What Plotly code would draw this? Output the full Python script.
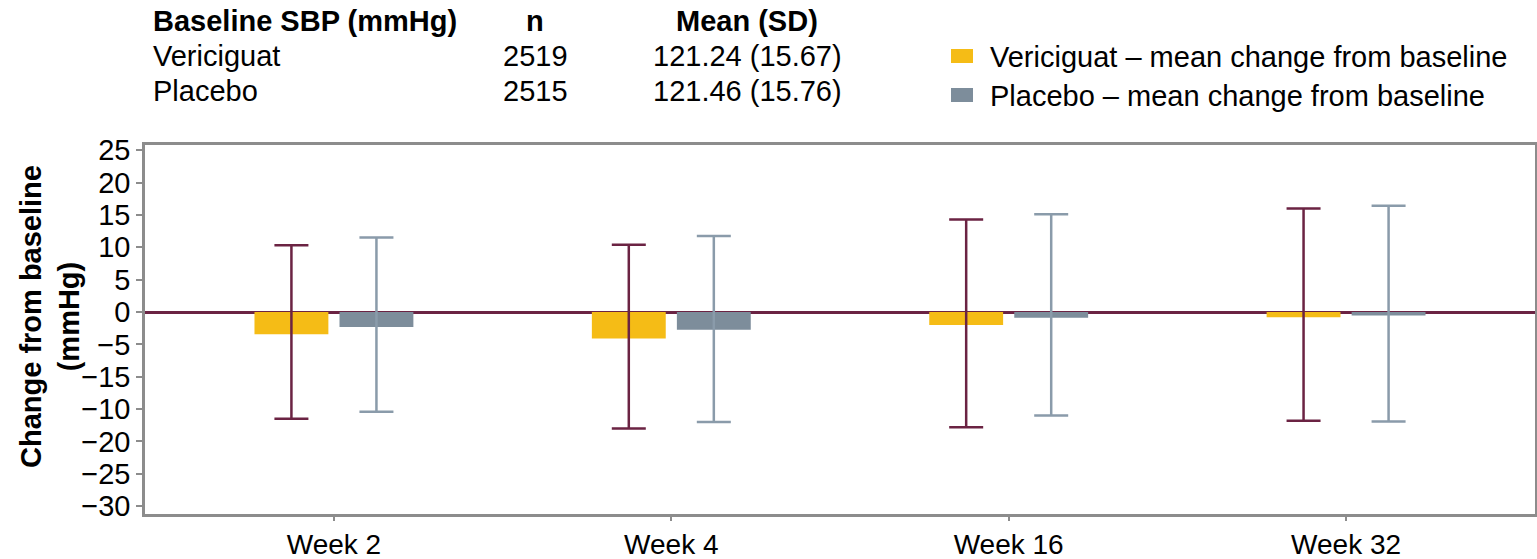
import plotly.graph_objects as go

# Visits
weeks = ["Week 2", "Week 4", "Week 16", "Week 32"]

# Mean change from baseline in SBP (mmHg) with lower/upper whisker ends
vericiguat_mean = [-3.45, -4.1, -2.0, -0.8]
vericiguat_upper = [10.3, 10.4, 14.3, 16.0]
vericiguat_lower = [-16.5, -18.0, -17.8, -16.8]

placebo_mean = [-2.3, -2.75, -0.88, -0.55]
placebo_upper = [11.5, 11.75, 15.1, 16.4]
placebo_lower = [-15.4, -17.0, -16.0, -16.9]

# Baseline summary table
table_header = ["Baseline SBP (mmHg)", "n", "Mean (SD)"]
table_groups = ["Vericiguat", "Placebo"]
table_n = ["2519", "2515"]
table_mean_sd = ["121.24 (15.67)", "121.46 (15.76)"]

legend_labels = ["Vericiguat – mean change from baseline",
                 "Placebo – mean change from baseline"]

# Y ticks (labels as printed on the axis)
y_tickvals = [25, 20, 15, 10, 5, 0, -5, -10, -15, -20, -25, -30]
y_ticktext = ["25", "20", "15", "10", "5", "0", "\u22125", "\u221215",
              "\u221210", "\u221220", "\u221225", "\u221230"]

YELLOW = "#F5BC16"
SLATE = "#7D8D9B"
MAROON = "#6B2343"
SLATE_LIGHT = "#8A9BAA"
AXIS_GREY = "#8C8C8C"
FONT = "Liberation Sans, Arial, sans-serif"
FS = 29

W, H = 1537, 559
ML, MR, MT, MB = 145, 2, 145, 45
PW, PH = W - ML - MR, H - MT - MB


def px(x):
    return (x - ML) / PW


def py(y):
    return (H - MB - y) / PH


x_idx = list(range(len(weeks)))
bar_w = 0.219
gap = 0.033

fig = go.Figure()
fig.add_trace(go.Bar(
    x=x_idx, y=vericiguat_mean, width=bar_w, offset=-gap / 2 - bar_w,
    marker=dict(color=YELLOW, line=dict(width=0)),
    error_y=dict(type="data", symmetric=False,
                 array=[u - m for u, m in zip(vericiguat_upper, vericiguat_mean)],
                 arrayminus=[m - l for l, m in zip(vericiguat_lower, vericiguat_mean)],
                 color=MAROON, thickness=2.5, width=17),
    showlegend=False, name=table_groups[0],
))
fig.add_trace(go.Bar(
    x=x_idx, y=placebo_mean, width=bar_w, offset=gap / 2,
    marker=dict(color=SLATE, line=dict(width=0)),
    error_y=dict(type="data", symmetric=False,
                 array=[u - m for u, m in zip(placebo_upper, placebo_mean)],
                 arrayminus=[m - l for l, m in zip(placebo_lower, placebo_mean)],
                 color=SLATE_LIGHT, thickness=2.5, width=17),
    showlegend=False, name=table_groups[1],
))

annotations = []
# Summary table
col_x = [(151, "left"), (535, "center"), (747, "center")]
for (cx, anchor), txt in zip(col_x, table_header):
    annotations.append(dict(x=px(cx), y=py(21), xref="paper", yref="paper",
                            text=f"<b>{txt}</b>", showarrow=False,
                            xanchor=anchor, yanchor="middle",
                            font=dict(size=FS, color="black", family=FONT)))
for i, row in enumerate(zip(table_groups, table_n, table_mean_sd)):
    for (cx, anchor), txt in zip(col_x, row):
        annotations.append(dict(x=px(cx), y=py(56 + 35 * i), xref="paper", yref="paper",
                                text=txt, showarrow=False,
                                xanchor=anchor, yanchor="middle",
                                font=dict(size=FS, color="black", family=FONT)))

# Legend
shapes = []
for i, (lab, col) in enumerate(zip(legend_labels, [YELLOW, SLATE])):
    yc = 56 + 39 * i
    shapes.append(dict(type="rect", xref="paper", yref="paper",
                       x0=px(951), x1=px(973), y0=py(yc - 7), y1=py(yc + 7),
                       fillcolor=col, line=dict(width=0)))
    annotations.append(dict(x=px(988), y=py(yc + 1), xref="paper", yref="paper",
                            text=lab, showarrow=False, xanchor="left", yanchor="middle",
                            font=dict(size=FS, color="black", family=FONT)))

# Y axis title
annotations.append(dict(x=px(50), y=py(316), xref="paper", yref="paper",
                        text="<b>Change from baseline<br>(mmHg)</b>", showarrow=False,
                        textangle=-90, xanchor="center", yanchor="middle",
                        font=dict(size=FS, color="black", family=FONT)))

fig.update_layout(
    width=W, height=H,
    margin=dict(l=ML, r=MR, t=MT, b=MB, autoexpand=False),
    paper_bgcolor="white", plot_bgcolor="white",
    barmode="overlay",
    font=dict(family=FONT, size=FS, color="black"),
    annotations=annotations, shapes=shapes,
    xaxis=dict(range=[-0.56, 3.56], tickvals=x_idx, ticktext=weeks,
               automargin=False,
               showgrid=False, zeroline=False, showline=True, mirror=True,
               linecolor=AXIS_GREY, linewidth=2.5, ticks="outside", ticklen=4,
               tickcolor=AXIS_GREY, tickwidth=1.5,
               tickfont=dict(size=28, color="black", family=FONT)),
    yaxis=dict(range=[-31.2, 25.8], tickvals=y_tickvals, ticktext=y_ticktext,
               automargin=False,
               showgrid=False, zeroline=True, zerolinecolor=MAROON, zerolinewidth=2.5,
               showline=True, mirror=True, linecolor=AXIS_GREY, linewidth=2.5,
               ticks="outside", ticklen=6, tickcolor=AXIS_GREY, tickwidth=1.5,
               tickfont=dict(size=FS, color="black", family=FONT)),
)

fig.write_html("out.html")
